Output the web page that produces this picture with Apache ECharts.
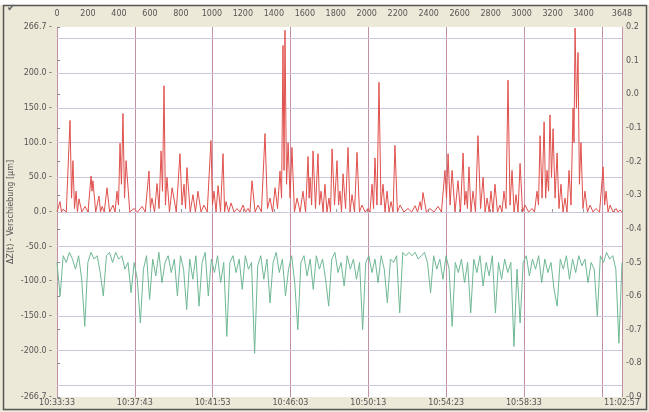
<!DOCTYPE html>
<html>
<head>
<meta charset="utf-8">
<script src="https://cdn.jsdelivr.net/npm/echarts@6/dist/echarts.min.js"></script>
<style>
  html, body { margin: 0; padding: 0; background: #fff; }
  #chart { width: 649px; height: 412px; }
</style>
</head>
<body>
<div id="chart"></div>
<script>
// red trace: sample index (top axis) and value (left axis)
const redSample = [
  0, 19, 29, 39, 60, 84, 94, 103, 113, 123, 132, 142,
  160, 181, 200, 220, 226, 232, 250, 271, 281, 291, 305, 323,
  340, 362, 375, 387, 397, 407, 416, 426, 436, 446, 470, 497,
  520, 549, 570, 594, 603, 613, 630, 646, 659, 672, 681, 691,
  700, 710, 726, 743, 770, 794, 807, 820, 830, 839, 860, 878,
  894, 910, 930, 949, 970, 994, 1004, 1014, 1027, 1040, 1056, 1072,
  1082, 1091, 1108, 1124, 1143, 1162, 1182, 1201, 1217, 1233, 1246, 1259,
  1279, 1298, 1320, 1343, 1359, 1375, 1392, 1408, 1424, 1440, 1450, 1459,
  1466, 1472, 1482, 1492, 1505, 1517, 1533, 1550, 1570, 1588, 1605, 1621,
  1628, 1634, 1644, 1653, 1669, 1685, 1695, 1705, 1718, 1730, 1743, 1756,
  1766, 1776, 1792, 1808, 1818, 1827, 1837, 1847, 1863, 1879, 1892, 1905,
  1921, 1937, 1953, 1969, 1990, 2008, 2021, 2034, 2044, 2053, 2066, 2079,
  2092, 2105, 2118, 2131, 2144, 2157, 2170, 2182, 2198, 2215, 2240, 2266,
  2290, 2312, 2328, 2344, 2353, 2363, 2385, 2408, 2434, 2460, 2482, 2505,
  2515, 2525, 2538, 2551, 2570, 2589, 2605, 2622, 2632, 2641, 2650, 2660,
  2673, 2686, 2702, 2718, 2735, 2751, 2764, 2777, 2790, 2802, 2815, 2828,
  2844, 2860, 2873, 2886, 2899, 2912, 2925, 2938, 2951, 2964, 2977, 2990,
  3006, 3022, 3045, 3067, 3083, 3099, 3109, 3119, 3132, 3145, 3155, 3164,
  3174, 3183, 3193, 3203, 3216, 3229, 3241, 3254, 3267, 3280, 3293, 3306,
  3319, 3332, 3338, 3345, 3354, 3364, 3373, 3383, 3396, 3409, 3425, 3442,
  3461, 3480, 3503, 3526, 3536, 3545, 3558, 3571, 3590, 3610, 3622, 3635,
  3648
];
const redValue = [
  0, 15, 0, 4, 0, 132, 20, 74, 5, 30, 0, 19,
  0, 8, 0, 52, 30, 45, 0, 23, 0, 8, 0, 35,
  0, 10, 0, 30, 10, 99, 40, 142, 20, 74, 0, 5,
  0, 8, 0, 59, 5, 20, 0, 41, 5, 88, 30, 182,
  10, 50, 0, 35, 0, 84, 10, 40, 5, 64, 0, 25,
  0, 30, 0, 10, 0, 103, 10, 30, 0, 38, 0, 84,
  0, 15, 0, 13, 0, 5, 0, 10, 0, 5, 0, 45,
  0, 10, 0, 113, 5, 20, 0, 35, 5, 59, 20, 240,
  60, 262, 40, 100, 20, 93, 0, 20, 0, 30, 0, 80,
  20, 50, 10, 88, 5, 84, 10, 30, 0, 40, 0, 20,
  0, 91, 10, 74, 10, 30, 0, 55, 5, 93, 0, 25,
  0, 86, 0, 10, 0, 5, 0, 40, 5, 78, 10, 187,
  10, 40, 0, 30, 0, 15, 0, 96, 0, 10, 0, 5,
  0, 9, 0, 15, 3, 28, 0, 5, 0, 8, 0, 60,
  20, 84, 10, 60, 0, 45, 0, 85, 10, 30, 5, 65,
  0, 30, 0, 110, 5, 50, 0, 20, 0, 30, 0, 40,
  0, 10, 0, 30, 5, 190, 10, 60, 0, 25, 0, 70,
  0, 10, 0, 5, 0, 30, 10, 110, 20, 130, 20, 60,
  30, 140, 50, 120, 20, 85, 5, 40, 0, 20, 0, 60,
  10, 150, 100, 265, 150, 230, 40, 100, 5, 30, 0, 10,
  0, 5, 0, 65, 10, 30, 0, 10, 0, 5, 0, 3,
  0
];

// green trace (right axis), evenly spread over the samples
const greenValue = [
  -0.50, -0.60, -0.48, -0.50, -0.47, -0.49, -0.52, -0.48, -0.55, -0.69,
  -0.50, -0.47, -0.49, -0.48, -0.53, -0.60, -0.48, -0.47, -0.50, -0.47,
  -0.49, -0.48, -0.52, -0.50, -0.59, -0.50, -0.55, -0.68, -0.52, -0.48,
  -0.61, -0.49, -0.54, -0.47, -0.56, -0.50, -0.48, -0.53, -0.49, -0.60,
  -0.48, -0.52, -0.64, -0.49, -0.55, -0.48, -0.63, -0.50, -0.47, -0.60,
  -0.49, -0.53, -0.48, -0.56, -0.50, -0.72, -0.50, -0.48, -0.53, -0.49,
  -0.58, -0.48, -0.52, -0.50, -0.77, -0.51, -0.48, -0.55, -0.49, -0.62,
  -0.50, -0.47, -0.53, -0.49, -0.60, -0.52, -0.48, -0.56, -0.70, -0.50,
  -0.48, -0.54, -0.49, -0.58, -0.48, -0.52, -0.49, -0.55, -0.63, -0.49,
  -0.47, -0.53, -0.50, -0.57, -0.48, -0.52, -0.49, -0.55, -0.50, -0.70,
  -0.50, -0.48, -0.53, -0.49, -0.56, -0.48, -0.52, -0.62, -0.49, -0.50,
  -0.48, -0.65, -0.47, -0.48, -0.47, -0.48, -0.47, -0.49, -0.48, -0.47,
  -0.50, -0.59, -0.48, -0.52, -0.49, -0.55, -0.48, -0.52, -0.69, -0.50,
  -0.53, -0.49, -0.56, -0.50, -0.65, -0.49, -0.53, -0.48, -0.57, -0.50,
  -0.54, -0.48, -0.65, -0.50, -0.55, -0.49, -0.53, -0.50, -0.75, -0.52,
  -0.68, -0.50, -0.48, -0.54, -0.49, -0.52, -0.48, -0.56, -0.49, -0.53,
  -0.50, -0.58, -0.63, -0.49, -0.52, -0.48, -0.55, -0.49, -0.53, -0.48,
  -0.51, -0.49, -0.56, -0.50, -0.52, -0.66, -0.48, -0.50, -0.47, -0.49,
  -0.48, -0.52, -0.74, -0.50
];

const sampleMax = 3648;
// left axis: end values plus the labelled steps, grid lines every 50
const leftMin = -266.7;
const leftMax = 266.7;
const leftLabels = [-266.7, -200, -150, -100, -50, 0, 50, 100, 150, 200, 266.7];
const leftGrid = [-250, -200, -150, -100, -50, 0, 50, 100, 150, 200, 250];
// bottom axis in seconds from 10:33:33, one label per 250 s grid line
const timeMax = 1815;
const timeLabels = ['10:33:33', '10:37:43', '10:41:53', '10:46:03', '10:50:13',
  '10:54:23', '10:58:33', '', '11:02:57'];

const chart = echarts.init(document.getElementById('chart'));

const redData = redSample.map((s, i) => [s, redValue[i]]);
const greenData = greenValue.map((v, i) => [i * sampleMax / (greenValue.length - 1), v]);

const labelStyle = { color: '#555', fontSize: 8, fontFamily: 'DejaVu Sans' };

chart.setOption({
  backgroundColor: '#ece9d8',
  animation: false,
  graphic: [
    { type: 'rect', shape: { x: 0, y: 0, width: 649, height: 5 }, style: { fill: '#fff' } },
    { type: 'rect', shape: { x: 3.5, y: 5.5, width: 643, height: 404 },
      style: { fill: 'none', stroke: '#555', lineWidth: 1.5 } },
    { type: 'text', left: 7, top: 3, style: { text: '\u2714', fill: '#666', fontSize: 10 } }
  ],
  grid: {
    left: 57, right: 27, top: 27, bottom: 15,
    containLabel: false, outerBoundsMode: 'none',
    show: true, backgroundColor: '#fff', borderWidth: 0
  },
  xAxis: [
    {
      type: 'value', position: 'top', min: 0, max: sampleMax, interval: 200,
      axisLine: { show: false },
      axisTick: { show: true, length: 3, lineStyle: { color: '#999' } },
      splitLine: { show: false },
      axisLabel: Object.assign({}, labelStyle, {
        margin: 9, showMaxLabel: true,
        formatter: v => (v === 3600 ? '' : String(v))
      })
    },
    {
      type: 'value', position: 'bottom', min: 0, max: timeMax, interval: 250,
      axisLine: { show: false },
      axisTick: { show: false },
      splitLine: { show: true, lineStyle: { color: '#c58fa5', width: 1 } },
      axisLabel: Object.assign({}, labelStyle, {
        margin: 2, showMinLabel: true, showMaxLabel: true,
        formatter: (v, i) => timeLabels[i] || ''
      })
    }
  ],
  yAxis: [
    {
      type: 'value', min: leftMin, max: leftMax,
      axisLine: { show: false },
      axisTick: { show: false },
      splitLine: { show: false },
      axisLabel: Object.assign({}, labelStyle, {
        margin: 5, customValues: leftLabels,
        formatter: v => Number(v).toFixed(1) + ' -'
      }),
      name: '\u0394Z(t) - Verschiebung [\u00b5m]',
      nameLocation: 'middle', nameGap: 42, nameRotate: 90, nameMoveOverlap: false,
      nameTextStyle: { color: '#555', fontSize: 8, fontFamily: 'DejaVu Sans' }
    },
    {
      type: 'value', min: -0.9, max: 0.2, interval: 0.1,
      axisLine: { show: false },
      axisTick: { show: true, length: 3, lineStyle: { color: '#888' } },
      splitLine: { show: false },
      axisLabel: Object.assign({}, labelStyle, {
        margin: 4, showMinLabel: true, showMaxLabel: true,
        formatter: v => v.toFixed(1)
      }),
      name: 'Neigung [mrad]',
      nameLocation: 'middle', nameGap: 20, nameRotate: 90,
      nameTextStyle: { color: '#777', fontSize: 7, fontFamily: 'DejaVu Sans' }
    }
  ],
  series: [
    {
      name: 'green', type: 'line', xAxisIndex: 0, yAxisIndex: 1,
      data: greenData, symbol: 'none',
      lineStyle: { color: '#6fb894', width: 1 },
      z: 3
    },
    {
      name: 'red', type: 'line', xAxisIndex: 0, yAxisIndex: 0,
      data: redData, symbol: 'none',
      lineStyle: { color: '#e0504c', width: 1 },
      z: 3,
      markLine: {
        silent: true, symbol: 'none', label: { show: false },
        lineStyle: { color: '#cdc6d8', width: 1, type: 'solid' },
        z: 1,
        data: leftGrid.map(v => ({ yAxis: v }))
      }
    }
  ]
});
</script>
</body>
</html>
